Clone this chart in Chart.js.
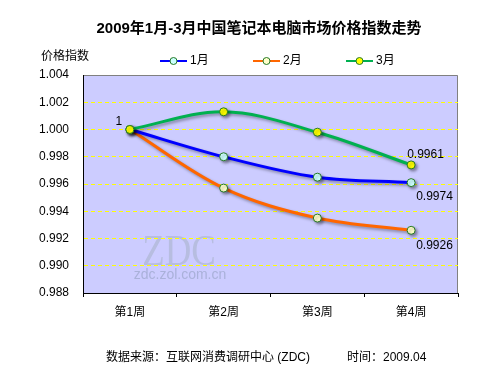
<!DOCTYPE html>
<html lang="zh-CN">
  <head>
    <meta charset="UTF-8" />
    <title>2009年1月-3月中国笔记本电脑市场价格指数走势</title>
    <script src="https://cdn.jsdelivr.net/npm/chart.js"></script>
    <style>
      html, body { margin: 0; padding: 0; background: #ffffff; }
      #wrap { width: 500px; height: 375px; }
    </style>
  </head>
  <body>
    <div id="wrap"><canvas id="chart" width="500" height="375"></canvas></div>
    <script>
      // data
      const weeks = ["第1周", "第2周", "第3周", "第4周"];
      const seriesNames = ["1月", "2月", "3月"];
      const jan = [1.0, 0.998, 0.9965, 0.9961];
      const feb = [1.0, 0.9957, 0.9935, 0.9926];
      const mar = [1.0, 1.0013, 0.9998, 0.9974];
      // value labels as printed on the original (series index, week index, text)
      const noteSeries = [2, 0, 1, 0];
      const noteWeek = [3, 3, 3, 0];
      const noteText = ["0.9961", "0.9974", "0.9926", "1"];

      const titleText = "2009年1月-3月中国笔记本电脑市场价格指数走势";
      const yTitle = "价格指数";
      const footLeft = "数据来源：互联网消费调研中心 (ZDC)";
      const footRight = "时间：2009.04";

      const FONT = "'Liberation Sans', Arial, 'Noto Sans CJK SC', sans-serif";
      const colors = ["#0000ff", "#ff6600", "#00b050"];
      const fills = ["#ccffff", "#ffffcc", "#ffff00"];

      // plot background, frame and watermark
      const backdrop = {
        id: "backdrop",
        beforeDraw(chart) {
          const { ctx, chartArea: a } = chart;
          ctx.save();
          ctx.fillStyle = "#ccccff";
          ctx.fillRect(a.left, a.top, a.right - a.left, a.bottom - a.top);
          ctx.strokeStyle = "#808080";
          ctx.lineWidth = 1;
          ctx.beginPath();
          ctx.moveTo(a.left, a.top + 0.5);
          ctx.lineTo(a.right - 0.5, a.top + 0.5);
          ctx.lineTo(a.right - 0.5, a.bottom);
          ctx.stroke();
          // watermark
          ctx.fillStyle = "#b7bde0";
          ctx.textAlign = "center";
          ctx.textBaseline = "alphabetic";
          ctx.save();
          ctx.translate(179, 265);
          ctx.scale(0.92, 1.12);
          ctx.font = "40px 'Liberation Serif', 'DejaVu Serif', serif";
          ctx.fillText("ZDC", 0, 0);
          ctx.restore();
          ctx.fillStyle = "#aab1da";
          ctx.font = "14px " + FONT;
          ctx.textBaseline = "middle";
          ctx.fillText("zdc.zol.com.cn", 180, 275);
          ctx.restore();
        },
      };

      // soft drop shadow under lines and markers
      const shadow = {
        id: "shadow",
        beforeDatasetsDraw(chart) {
          const ctx = chart.ctx;
          ctx.save();
          ctx.shadowColor = "rgba(0,0,0,0.35)";
          ctx.shadowBlur = 3;
          ctx.shadowOffsetX = 2;
          ctx.shadowOffsetY = 2;
        },
        afterDatasetsDraw(chart) {
          chart.ctx.restore();
        },
      };

      // titles, legend, value labels, footer
      const texts = {
        id: "texts",
        afterDraw(chart) {
          const ctx = chart.ctx;
          ctx.save();
          ctx.fillStyle = "#000";
          ctx.textBaseline = "middle";

          ctx.textAlign = "center";
          ctx.font = "bold 15px " + FONT;
          ctx.fillText(titleText, 259, 29);

          ctx.textAlign = "left";
          ctx.font = "12px " + FONT;
          ctx.fillText(yTitle, 41, 57);

          // legend
          const legX = [160, 253, 346];
          chart.data.datasets.forEach((ds, i) => {
            const x = legX[i], y = 61;
            ctx.strokeStyle = ds.borderColor;
            ctx.lineWidth = 2;
            ctx.beginPath();
            ctx.moveTo(x, y);
            ctx.lineTo(x + 27, y);
            ctx.stroke();
            ctx.beginPath();
            ctx.arc(x + 13.5, y, 3.5, 0, Math.PI * 2);
            ctx.fillStyle = ds.pointBackgroundColor;
            ctx.fill();
            ctx.strokeStyle = ds.pointBorderColor;
            ctx.lineWidth = 1;
            ctx.stroke();
            ctx.fillStyle = "#000";
            ctx.fillText(ds.label, x + 30, y);
          });

          // value labels, placed relative to their points
          const offs = [[-4, -10, "left"], [5, 14, "left"], [5, 15, "left"], [-11, -8, "center"]];
          ctx.font = "12px " + FONT;
          noteText.forEach((t, k) => {
            const pt = chart.getDatasetMeta(noteSeries[k]).data[noteWeek[k]];
            ctx.textAlign = offs[k][2];
            ctx.fillText(t, pt.x + offs[k][0], pt.y + offs[k][1]);
          });

          ctx.textAlign = "left";
          ctx.font = "12px " + FONT;
          ctx.fillText(footLeft, 106, 358);
          ctx.fillText(footRight, 347, 358);
          ctx.restore();
        },
      };

      const makeSet = (label, values, i, order) => ({
        label: label,
        data: values,
        borderColor: colors[i],
        borderWidth: 3,
        tension: 0.35,
        pointRadius: 4,
        pointBorderWidth: 1,
        pointBorderColor: "#267a26",
        pointBackgroundColor: fills[i],
        order: order,
      });

      new Chart(document.getElementById("chart"), {
        type: "line",
        data: {
          labels: weeks,
          datasets: [
            makeSet(seriesNames[0], jan, 0, 1),
            makeSet(seriesNames[1], feb, 1, 2),
            makeSet(seriesNames[2], mar, 2, 0),
          ],
        },
        options: {
          responsive: false,
          animation: false,
          events: [],
          layout: { padding: { top: 75, right: 42, bottom: 0, left: 0 } },
          plugins: { legend: { display: false }, tooltip: { enabled: false } },
          scales: {
            x: {
              offset: true,
              grid: {
                offset: true,
                drawOnChartArea: false,
                drawTicks: true,
                tickLength: 4,
                color: "#000",
              },
              border: { color: "#000" },
              ticks: { color: "#000", padding: 8, font: { size: 12, family: FONT } },
              afterFit(s) { s.height = 82; },
            },
            y: {
              min: 0.988,
              max: 1.004,
              grid: {
                drawTicks: false,
                color: (c) =>
                  c.tick && c.tick.value > 0.9885 && c.tick.value < 1.0035 ? "#ffff00" : "rgba(0,0,0,0)",
                lineWidth: 1,
              },
              border: { color: "#000", dash: [4, 3] },
              ticks: {
                stepSize: 0.002,
                padding: 14,
                color: "#000",
                font: { size: 12, family: FONT },
                callback: (v) => Number(v).toFixed(3),
              },
              afterFit(s) { s.width = 83; },
            },
          },
        },
        plugins: [backdrop, shadow, texts],
      });
    </script>
  </body>
</html>
